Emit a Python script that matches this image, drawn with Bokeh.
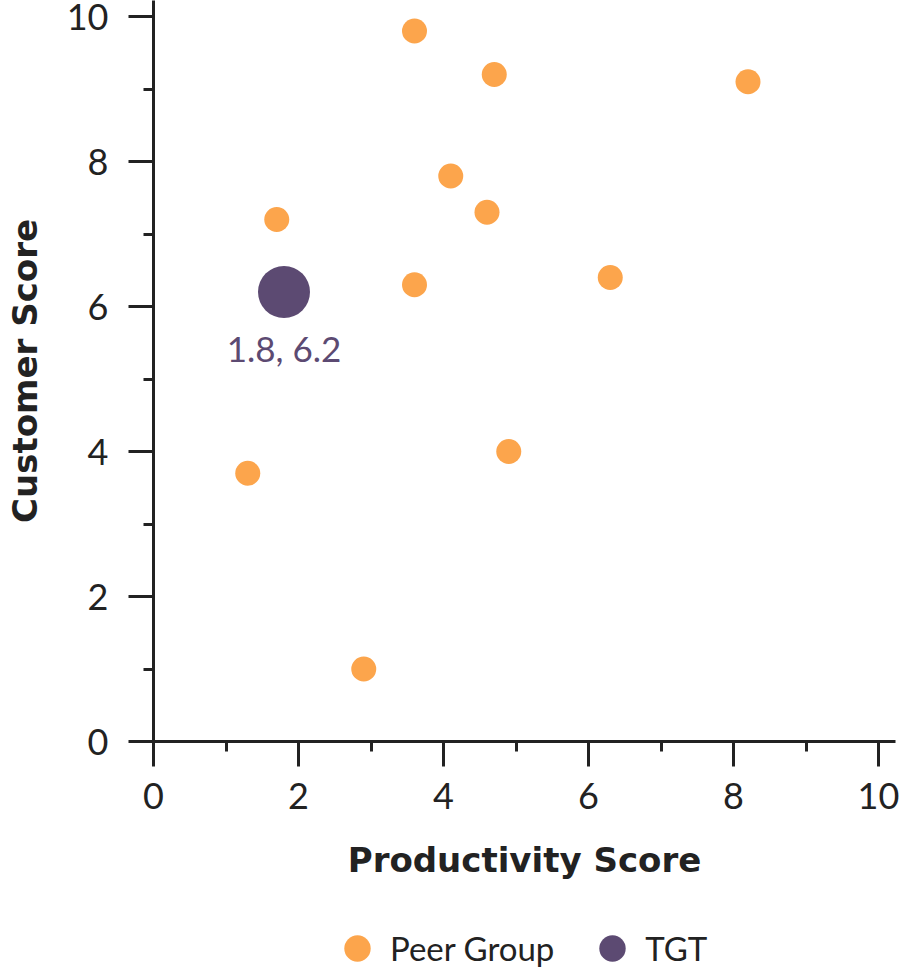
from bokeh.plotting import figure
from bokeh.layouts import column
from bokeh.models import Range1d, SingleIntervalTicker, Legend, LegendItem, ColumnDataSource
from bokeh.core.properties import value
from bokeh.embed import file_html
from bokeh.resources import INLINE

# ---- data ----
peer_x = [3.6, 4.7, 8.2, 4.1, 1.7, 4.6, 3.6, 6.3, 4.9, 1.3, 2.9]
peer_y = [9.8, 9.2, 9.1, 7.8, 7.2, 7.3, 6.3, 6.4, 4.0, 3.7, 1.0]
tgt_x = [1.8]
tgt_y = [6.2]
series_names = ["Peer Group", "TGT"]
x_title = "Productivity Score"
y_title = "Customer Score"
tick_interval = 2

PEER_COLOR = "#FCA54C"
TGT_COLOR = "#5C4A72"
INK = "#222222"
FONT = "Lato"
TITLE_FONT = "DejaVu Sans"

tgt_labels = [f"{x}, {y}" for x, y in zip(tgt_x, tgt_y)]

# frame: left 153, right 895, top 0, bottom 741 ; 72.5 px per unit
p = figure(width=900, height=900,
           x_range=Range1d(0, 742 / 72.5), y_range=Range1d(0, 741 / 72.5),
           output_backend="svg", toolbar_location=None,
           min_border_left=153, min_border_right=5,
           min_border_top=0, min_border_bottom=159)
p.outline_line_color = None
p.grid.visible = False
p.background_fill_color = "white"
p.border_fill_color = "white"

for ax in (p.xaxis[0], p.yaxis[0]):
    ax.ticker = SingleIntervalTicker(interval=tick_interval, num_minor_ticks=2)
    ax.axis_line_width = 3
    ax.axis_line_color = INK
    ax.major_tick_line_width = 3
    ax.minor_tick_line_width = 3
    ax.major_tick_line_color = INK
    ax.minor_tick_line_color = INK
    ax.major_tick_in = 0
    ax.major_tick_out = 25
    ax.minor_tick_in = 0
    ax.minor_tick_out = 10
    ax.major_label_text_font = FONT
    ax.major_label_text_font_size = "36px"
    ax.major_label_text_color = INK
    ax.axis_label_text_font = TITLE_FONT
    ax.axis_label_text_font_style = "bold"
    ax.axis_label_text_font_size = "34px"
    ax.axis_label_text_color = INK

p.xaxis[0].axis_label = x_title
p.yaxis[0].axis_label = y_title
p.xaxis[0].major_label_standoff = 16
p.xaxis[0].axis_label_standoff = 28
p.yaxis[0].major_label_standoff = 20
p.yaxis[0].axis_label_standoff = 19

peer_src = ColumnDataSource(dict(x=peer_x, y=peer_y))
tgt_src = ColumnDataSource(dict(x=tgt_x, y=tgt_y, label=tgt_labels))

p.scatter("x", "y", source=peer_src, size=25, marker="circle",
          fill_color=PEER_COLOR, line_color=None)
p.scatter("x", "y", source=tgt_src, size=52, marker="circle",
          fill_color=TGT_COLOR, line_color=None)
p.text("x", "y", text="label", source=tgt_src, y_offset=56,
       text_align="center", text_baseline="middle",
       text_font=value(FONT), text_font_size="35px", text_color=TGT_COLOR)

# ---- legend strip (its frame is aligned with the main frame by the column) ----
lg = figure(width=900, height=80, x_range=Range1d(0, 1), y_range=Range1d(0, 1),
            output_backend="svg", toolbar_location=None,
            x_axis_location=None, y_axis_location=None,
            min_border_left=0, min_border_right=0,
            min_border_top=0, min_border_bottom=0)
lg.outline_line_color = None
lg.grid.visible = False
lg.background_fill_color = "white"
lg.border_fill_color = "white"

k_peer = lg.scatter("x", "y", source=peer_src, marker="circle",
                    fill_color=PEER_COLOR, line_color=None, visible=False)
k_tgt = lg.scatter("x", "y", source=tgt_src, marker="circle",
                   fill_color=TGT_COLOR, line_color=None, visible=False)

legend = Legend(items=[LegendItem(label=series_names[0], renderers=[k_peer]),
                       LegendItem(label=series_names[1], renderers=[k_tgt])],
                orientation="horizontal", location=(171, -1),
                glyph_width=66, glyph_height=66, label_standoff=0,
                spacing=25, padding=0, margin=0,
                border_line_color=None, background_fill_alpha=0,
                inactive_fill_alpha=0,
                label_text_font=FONT, label_text_font_size="33px",
                label_text_color=INK)
lg.add_layout(legend, "center")

layout = column(p, lg, spacing=0)
open("out.html", "w").write(file_html(layout, INLINE))
